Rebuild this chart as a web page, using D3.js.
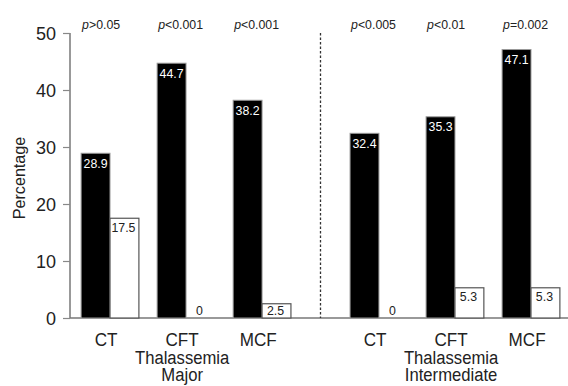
<!DOCTYPE html>
<html>
<head>
<meta charset="utf-8">
<script src="https://cdn.jsdelivr.net/npm/d3@7"></script>
<style>
	body { margin: 0; background: #fff; }
	svg { display: block; font-family: "Liberation Sans", Arial, sans-serif; }
</style>
</head>
<body>
<script>
var groups = ["Major", "Intermediate"];
var groupTitles = [["Thalassemia", "Major"], ["Thalassemia", "Intermediate"]];
var categories = ["CT", "CFT", "MCF"];
var blackValues = [28.9, 44.7, 38.2, 32.4, 35.3, 47.1];
var whiteValues = [17.5, 0, 2.5, 0, 5.3, 5.3];
var pLabels = [">0.05", "<0.001", "<0.001", "<0.005", "<0.01", "=0.002"];
var yTicks = [0, 10, 20, 30, 40, 50];

var width = 568,
	height = 386;

// the original type is a condensed face, squeeze the regular one a bit
var narrow = 0.9;

var svg = d3.select("body").append("svg")
	.attr("width", width)
	.attr("height", height);

var y = d3.scaleLinear()
	.domain([0, 50])
	.range([318, 33]);

// one band per group, then categories inside, then the two bars
var xGroup = d3.scaleBand()
	.domain(groups)
	.range([72, 569])
	.paddingInner(0.152);

var xCat = d3.scaleBand()
	.domain(categories)
	.range([0, xGroup.bandwidth()])
	.paddingInner(0.24)
	.paddingOuter(0.12);

var xSeries = d3.scaleBand()
	.domain(["black", "white"])
	.range([0, xCat.bandwidth()]);

var rows = [];
groups.forEach(function(g, gi){
	categories.forEach(function(c, ci){
		var i = gi * categories.length + ci;
		rows.push({group: g, cat: c, black: blackValues[i], white: whiteValues[i], p: pLabels[i]});
	});
});

function barX(d, s){
	return xGroup(d.group) + xCat(d.cat) + xSeries(s);
}

// axes
var yAxis = d3.axisLeft(y)
	.tickValues(yTicks)
	.tickSize(7)
	.tickPadding(7);

var gy = svg.append("g")
	.attr("transform", "translate(70,0)")
	.call(yAxis);
gy.select(".domain").attr("stroke", "#777").attr("stroke-width", 1.5)
	.attr("d", "M0," + y(50) + "V" + y(0));
gy.selectAll(".tick line").attr("stroke", "#888").attr("stroke-width", 1.2);
gy.selectAll(".tick text")
	.attr("fill", "#222")
	.attr("dy", "0.34em")
	.style("font-size", "18px")
	.style("font-family", "inherit");

svg.append("line")
	.attr("x1", 70).attr("x2", width)
	.attr("y1", y(0)).attr("y2", y(0))
	.attr("stroke", "#777")
	.attr("stroke-width", 1.5);

svg.append("text")
	.attr("transform", "translate(25,178) rotate(-90) scale(0.95,1)")
	.attr("text-anchor", "middle")
	.attr("fill", "#222")
	.style("font-size", "17px")
	.text("Percentage");

// divider between the two groups
var divX = (xGroup("Major") + xGroup.bandwidth() + xGroup("Intermediate")) / 2;
svg.append("line")
	.attr("x1", divX).attr("x2", divX)
	.attr("y1", y(50)).attr("y2", y(0))
	.attr("stroke", "#333")
	.attr("stroke-width", 1.3)
	.attr("stroke-dasharray", "2.5,2");

// bars
var bars = svg.append("g");
bars.selectAll("rect.black")
	.data(rows)
	.enter().append("rect")
	.attr("class", "black")
	.attr("x", function(d){ return barX(d, "black"); })
	.attr("y", function(d){ return y(d.black); })
	.attr("width", xSeries.bandwidth())
	.attr("height", function(d){ return y(0) - y(d.black); })
	.attr("fill", "#000")
	.attr("stroke", "#999")
	.attr("stroke-width", 1);

bars.selectAll("rect.white")
	.data(rows.filter(function(d){ return d.white > 0; }))
	.enter().append("rect")
	.attr("class", "white")
	.attr("x", function(d){ return barX(d, "white"); })
	.attr("y", function(d){ return y(d.white); })
	.attr("width", xSeries.bandwidth())
	.attr("height", function(d){ return y(0) - y(d.white); })
	.attr("fill", "#fff")
	.attr("stroke", "#555")
	.attr("stroke-width", 1.2);

// value labels
svg.append("g").selectAll("text")
	.data(rows)
	.enter().append("text")
	.attr("transform", function(d){
		return "translate(" + (barX(d, "black") + xSeries.bandwidth() / 2) + "," + (y(d.black) + 14.5) + ") scale(0.95,1)";
	})
	.attr("text-anchor", "middle")
	.attr("fill", "#fff")
	.style("font-size", "13px")
	.text(function(d){ return d.black; });

svg.append("g").selectAll("text")
	.data(rows)
	.enter().append("text")
	.attr("transform", function(d){
		var ty = Math.min(y(d.white) + 13.5, y(0) - 3);
		return "translate(" + (barX(d, "white") + xSeries.bandwidth() / 2 - 1) + "," + ty + ") scale(0.95,1)";
	})
	.attr("text-anchor", "middle")
	.attr("fill", "#222")
	.style("font-size", "13px")
	.text(function(d){ return d.white; });

// p-values
var pt = svg.append("g").selectAll("text")
	.data(rows)
	.enter().append("text")
	.attr("transform", function(d){ return "translate(" + (barX(d, "black") + 1) + ",29) scale(0.95,1)"; })
	.attr("fill", "#222")
	.style("font-size", "13px");
pt.append("tspan").style("font-style", "italic").text("p");
pt.append("tspan").text(function(d){ return d.p; });

// category labels
svg.append("g").selectAll("text")
	.data(rows)
	.enter().append("text")
	.attr("transform", function(d){ return "translate(" + (barX(d, "black") + 25) + ",346) scale(" + narrow + ",1)"; })
	.attr("text-anchor", "middle")
	.attr("fill", "#222")
	.style("font-size", "19px")
	.text(function(d){ return d.cat; });

// group titles, centred under the middle category
groups.forEach(function(g, gi){
	var cx = xGroup(g) + xCat("CFT") + 25;
	svg.append("text")
		.attr("transform", "translate(" + cx + ",364) scale(" + narrow + ",1)")
		.attr("text-anchor", "middle")
		.attr("fill", "#222")
		.style("font-size", "18.5px")
		.selectAll("tspan")
		.data(groupTitles[gi])
		.enter().append("tspan")
		.attr("x", 0)
		.attr("dy", function(d, i){ return i ? 16.5 : 0; })
		.text(function(d){ return d; });
});
</script>
</body>
</html>
